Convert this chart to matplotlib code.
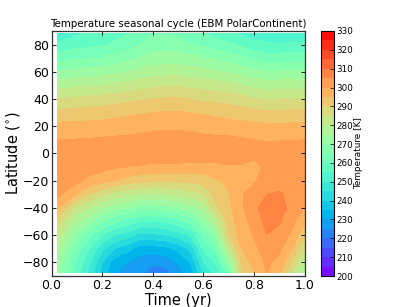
#!/usr/bin/env python
import matplotlib
matplotlib.use("Agg")
import matplotlib.pyplot as plt
import numpy as np

# values, one list per time, south to north
lat = [-88, -80, -70, -60, -50, -40, -30, -20, -10, 0, 10, 20, 30, 40, 50, 60, 70, 80, 88]
time = [0.023, 0.1, 0.15, 0.2, 0.25, 0.3, 0.35, 0.4, 0.45, 0.5, 0.55, 0.6, 0.65, 0.7,
        0.75, 0.8, 0.85, 0.9, 0.95, 1.0]

T_002 = [272, 273.5, 277.5, 282.5, 288, 296, 301.5, 303.5, 304, 303, 300, 296.5, 291.5, 285, 278, 270.5, 263, 256, 252]
T_010 = [257.5, 259, 263, 269, 276, 283, 295, 301.5, 303.5, 303.5, 300.2, 296.5, 292, 286, 279, 271.5, 264.5, 258, 254.5]
T_015 = [248, 251, 255, 261.5, 271, 280, 290, 298.5, 302.5, 303.5, 300.4, 296.8, 292.3, 286.5, 279.5, 272, 265, 258.8, 255.5]
T_020 = [238, 240, 246.5, 255.5, 265, 275.5, 286, 297, 301.5, 303.5, 300.7, 297, 292.5, 287, 280, 272.5, 265.5, 259.5, 256.5]
T_025 = [230, 232.5, 240, 250, 261, 272.5, 283, 295, 300.5, 303.5, 301, 297.2, 293.2, 287.8, 281, 273.8, 267, 261, 258.5]
T_030 = [228, 230, 237, 247.5, 258, 270, 281.5, 293, 300, 303.5, 301.3, 297.5, 294, 288.5, 282, 275, 268.5, 262.5, 260]
T_035 = [226, 227.5, 232.5, 243.5, 255.5, 267.5, 280, 291.5, 299.5, 303.5, 301.8, 298, 294.5, 289.3, 283, 276.3, 270.3, 265, 262]
T_040 = [222, 226, 232.5, 244, 255, 267.5, 279.5, 291, 298.5, 303.8, 302.1, 298.5, 295, 290, 284, 277.5, 272, 267.5, 264.5]
T_045 = [223, 227, 233.5, 245, 256, 268, 280, 291, 298.5, 304, 302.4, 299, 295.5, 290.5, 284.5, 278, 272.5, 267.5, 265]
T_050 = [227, 230.5, 236.5, 247.5, 258.5, 270, 281.5, 291, 298.5, 304, 302.3, 299, 295.5, 290.5, 284.5, 278, 272.5, 267, 264]
T_055 = [232, 235.5, 241.5, 251.5, 262, 273, 283, 291.5, 298, 304, 302, 298.5, 295, 289.8, 283.8, 277.3, 271.5, 265.5, 262]
T_060 = [245, 250, 256, 262, 270, 277, 285, 292.5, 298, 304, 301.4, 298, 294.5, 289, 283, 276.5, 270.5, 264, 260]
T_065 = [252, 256, 262, 270, 280, 289, 292.5, 294.5, 298.5, 303.5, 301.2, 297.5, 293.7, 288.5, 282.5, 275.5, 269, 262.5, 258]
T_070 = [262, 270, 282, 291, 292.5, 294, 294.7, 296, 299.5, 303, 301.2, 297, 293, 288, 282, 274.5, 267.5, 261, 256.5]
T_075 = [289, 292, 295, 297, 298, 299, 299.5, 298.5, 299.5, 302.5, 300.6, 296.8, 292.3, 286.8, 280.3, 273, 265.8, 259, 254.5]
T_080 = [295, 296.5, 298.5, 300.5, 302, 304, 302.5, 299.5, 298.5, 301.5, 300, 296.5, 291.5, 285.5, 278.5, 271.5, 264, 257, 252.5]
T_085 = [300, 301, 303, 305, 306.5, 307, 305, 302, 301, 302, 299.7, 296, 291, 284.5, 277.5, 270, 262, 256, 252]
T_090 = [296.5, 298.5, 301, 303.5, 305.5, 307, 305.5, 303, 302, 302, 299.8, 296, 291, 285, 278, 270.5, 262.5, 255.5, 251.5]
T_095 = [285, 289.5, 295, 299, 301.5, 303.5, 303.5, 303, 302.5, 302, 299.9, 296.3, 291.2, 285, 278, 270.5, 263, 255.8, 251.8]
T_100 = [275, 279, 285.5, 291, 296, 299.7, 302, 303.5, 303.5, 302.5, 300, 296.5, 291.5, 285, 278, 270.5, 263, 256, 252]

levels = np.arange(200, 335, 5)
cbar_ticks = np.arange(200, 340, 10)

T = np.array([T_002, T_010, T_015, T_020, T_025, T_030, T_035, T_040, T_045, T_050,
              T_055, T_060, T_065, T_070, T_075, T_080, T_085, T_090, T_095, T_100]).T

plt.rcParams['font.family'] = 'DejaVu Sans'
fig = plt.figure(figsize=(4.09, 3.07), dpi=100)
ax = fig.add_axes([51.5/409, 1 - 275.7/307, 253.2/409, 244.7/307])
cf = ax.contourf(time, lat, T, levels=levels, cmap='rainbow', vmin=200, vmax=330)
ax.set_xlim(0, 1)
ax.set_ylim(-90, 90)
ax.set_xticks([0.0, 0.2, 0.4, 0.6, 0.8, 1.0])
ax.set_yticks(np.arange(-80, 100, 20))
ax.tick_params(direction='in', top=True, right=True, labelsize=9, length=3, width=0.6)
ax.tick_params(axis='y', pad=1.5)
ax.tick_params(axis='x', pad=2.5)
for s in ax.spines.values():
    s.set_linewidth(0.9)
    s.set_color('#333333')
ax.set_xlabel("Time (yr)", fontsize=10.5, va='top')
ax.xaxis.set_label_coords(0.5, -0.07)
ax.set_ylabel("Latitude ($^{\\circ}$)", fontsize=10.5, va='center')
ax.yaxis.set_label_coords(-0.153, 0.503)
ax.set_title("Temperature seasonal cycle (EBM PolarContinent)", fontsize=7.4, pad=3)

cax = fig.add_axes([320.5/409, 1 - 276/307, 13/409, 245/307])
cb = fig.colorbar(cf, cax=cax, ticks=cbar_ticks)
cb.ax.tick_params(labelsize=6.3, length=3, width=0.5, direction='in', pad=1.8)
cb.outline.set_linewidth(0.8)
cb.set_label("Temperature [K]", fontsize=6.4, labelpad=0.5)

fig.savefig("out.png", dpi=100)
